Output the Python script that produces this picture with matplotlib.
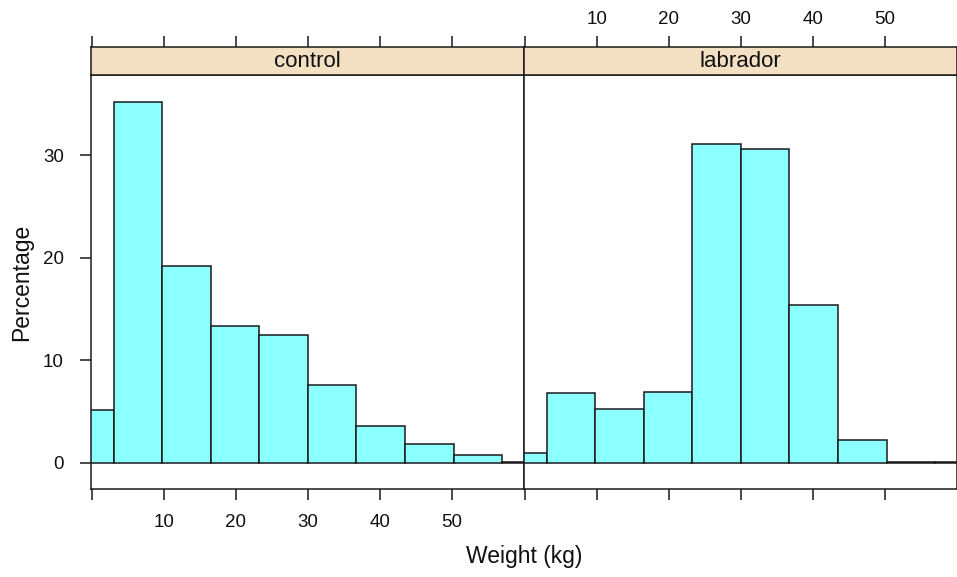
#!/usr/bin/env python3
"""
Lattice-style conditioned histogram: dog weights, control vs labrador
"""

import numpy as np
import matplotlib
matplotlib.use('Agg')
import matplotlib.pyplot as plt

# Data (percent of dogs per weight bin)
BIN_START = -3.7
BIN_WIDTH = 6.74
groups = ['control', 'labrador']
control_pct = [5.1, 35.2, 19.2, 13.3, 12.5, 7.6, 3.6, 1.8, 0.7, 0.1]
labrador_pct = [0.9, 6.8, 5.2, 6.9, 31.1, 30.6, 15.4, 2.2, 0.05, 0.05]
x_ticks = [0, 10, 20, 30, 40, 50]
x_ticklabels = ['', '10', '20', '30', '40', '50']
y_ticks = [0, 10, 20, 30]

# Styling
BAR_COLOR = '#8cffff'
EDGE_COLOR = '#1a1a1a'
STRIP_COLOR = '#f3dfc1'
FONT = 'Liberation Sans'
W, H = 957, 577
XLIM = (-0.1, 60.05)
YLIM = (-2.57, 37.8)

plt.rcParams['font.family'] = [FONT, 'DejaVu Sans']


def px_box(left, top, right, bottom):
    """Convert a pixel box to a figure-fraction rect"""
    return [left / W, 1 - bottom / H, (right - left) / W, (bottom - top) / H]


def style_ticks(ax, **kw):
    ax.tick_params(direction='out', length=7.8, width=1.1, color=EDGE_COLOR,
                   labelsize=13.5, labelcolor='#111111', **kw)
    for s in ax.spines.values():
        s.set_color(EDGE_COLOR)
        s.set_linewidth(1.1)


fig = plt.figure(figsize=(W / 100, H / 100), dpi=100, facecolor='white')

panels = [(91.3, 524.3), (524.3, 957.3)]
values = [control_pct, labrador_pct]
edges = BIN_START + BIN_WIDTH * np.arange(len(control_pct))

for i, ((left, right), name, pct) in enumerate(zip(panels, groups, values)):
    ax = fig.add_axes(px_box(left, 75.3, right, 489))
    ax.bar(edges, pct, width=BIN_WIDTH, align='edge', color=BAR_COLOR,
           edgecolor=EDGE_COLOR, linewidth=1.1)
    ax.set_xlim(*XLIM)
    ax.set_ylim(*YLIM)
    ax.set_xticks(x_ticks)
    ax.set_yticks(y_ticks)
    style_ticks(ax, pad=10)
    if i == 0:
        ax.set_xticklabels(x_ticklabels)
        ax.tick_params(axis='y', pad=12)
    else:
        ax.set_xticklabels([])
        ax.tick_params(axis='y', left=False, labelleft=False)

    # strip on top of each panel, carrying the top-axis ticks
    strip = fig.add_axes(px_box(left, 47.3, right, 75.3))
    strip.set_facecolor(STRIP_COLOR)
    strip.set_xlim(*XLIM)
    strip.set_ylim(0, 1)
    strip.set_yticks([])
    strip.set_xticks(x_ticks)
    strip.xaxis.tick_top()
    style_ticks(strip, pad=6)
    if i == 0:
        strip.set_xticklabels([])
    else:
        strip.set_xticklabels(x_ticklabels)
    strip.text(0.5, 0.5, name, transform=strip.transAxes, ha='center',
               va='center', fontsize=16, color='#111111')

fig.text(21.5 / W, 1 - 282 / H, 'Percentage', rotation=90, ha='center',
         va='center', fontsize=16.5, color='#111111')
fig.text(524 / W, 1 - 556 / H, 'Weight (kg)', ha='center', va='center',
         fontsize=16.5, color='#111111')

fig.savefig('out.png', dpi=100, facecolor='white')
plt.close(fig)
